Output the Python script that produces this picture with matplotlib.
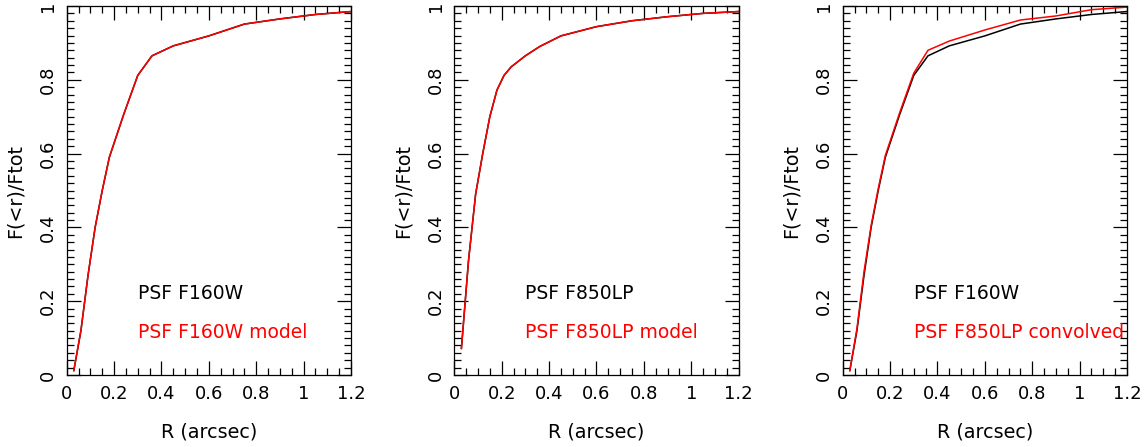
import matplotlib
matplotlib.use('Agg')
import matplotlib.pyplot as plt
from matplotlib.ticker import MultipleLocator, FuncFormatter

plt.rcParams['font.family'] = ['DejaVu Sans']

# radii (arcsec)
r_f160w = [0.03, 0.06, 0.09, 0.12, 0.15, 0.18, 0.24, 0.30, 0.36, 0.45, 0.60, 0.75, 0.90, 1.05, 1.20]
r_f850lp = [0.03, 0.06, 0.09, 0.12, 0.15, 0.18, 0.21, 0.24, 0.30, 0.36, 0.45, 0.60, 0.75, 0.90, 1.05, 1.20]

# curves of growth
f160w = [0.012, 0.12, 0.27, 0.40, 0.50, 0.59, 0.705, 0.812, 0.865, 0.892, 0.919, 0.951, 0.965, 0.977, 0.985]
f160w_model = [0.012, 0.12, 0.27, 0.40, 0.50, 0.59, 0.705, 0.812, 0.865, 0.892, 0.919, 0.951, 0.965, 0.977, 0.985]
f850lp = [0.072, 0.31, 0.49, 0.60, 0.70, 0.772, 0.812, 0.835, 0.865, 0.89, 0.919, 0.944, 0.96, 0.971, 0.98, 0.985]
f850lp_model = [0.072, 0.31, 0.49, 0.60, 0.70, 0.772, 0.812, 0.835, 0.865, 0.89, 0.919, 0.944, 0.96, 0.971, 0.98, 0.985]
f850lp_conv = [0.012, 0.125, 0.28, 0.405, 0.505, 0.595, 0.71, 0.818, 0.88, 0.905, 0.935, 0.962, 0.973, 0.99, 0.997]

panels = [
    (r_f160w, f160w, r_f160w, f160w_model, 'PSF F160W', 'PSF F160W model'),
    (r_f850lp, f850lp, r_f850lp, f850lp_model, 'PSF F850LP', 'PSF F850LP model'),
    (r_f160w, f160w, r_f160w, f850lp_conv, 'PSF F160W', 'PSF F850LP convolved'),
]

W, H = 1146, 447
fig = plt.figure(figsize=(W / 100, H / 100), dpi=100)
lefts = [66.7, 454.3, 842.7]
fmt = FuncFormatter(lambda v, p: '%g' % round(v, 2))

for left, (rb, yb, rr, yr, lab1, lab2) in zip(lefts, panels):
    ax = fig.add_axes([left / W, 72 / H, 284.3 / W, 369 / H])
    ax.plot(rb, yb, color='black', lw=1.1)
    ax.plot(rr, yr, color='#ff0000', lw=1.1)
    ax.set_xlim(0, 1.2)
    ax.set_ylim(0, 1)
    ax.xaxis.set_major_locator(MultipleLocator(0.2))
    ax.xaxis.set_minor_locator(MultipleLocator(0.05))
    ax.yaxis.set_major_locator(MultipleLocator(0.2))
    ax.yaxis.set_minor_locator(MultipleLocator(0.02))
    ax.xaxis.set_major_formatter(fmt)
    ax.yaxis.set_major_formatter(fmt)
    ax.tick_params(which='both', direction='in', top=True, right=True, width=0.9, labelsize=13)
    ax.tick_params(which='major', length=10)
    ax.tick_params(which='minor', length=5)
    ax.tick_params(axis='x', pad=7)
    ax.tick_params(axis='y', pad=7)
    for t in ax.get_yticklabels():
        t.set_rotation(90)
        t.set_va('center')
    for s in ax.spines.values():
        s.set_linewidth(0.9)
    ax.set_xlabel('R (arcsec)', fontsize=13.8)
    ax.set_ylabel('F(<r)/Ftot', fontsize=13.8)
    ax.xaxis.set_label_coords(0.5, -0.13)
    ax.yaxis.set_label_coords(-0.148, 0.5)
    ax.text(0.3, 0.22, lab1, color='black', fontsize=13.5, va='center')
    ax.text(0.3, 0.115, lab2, color='#ff0000', fontsize=13.5, va='center')

fig.savefig('out.png', dpi=100, facecolor='white')
